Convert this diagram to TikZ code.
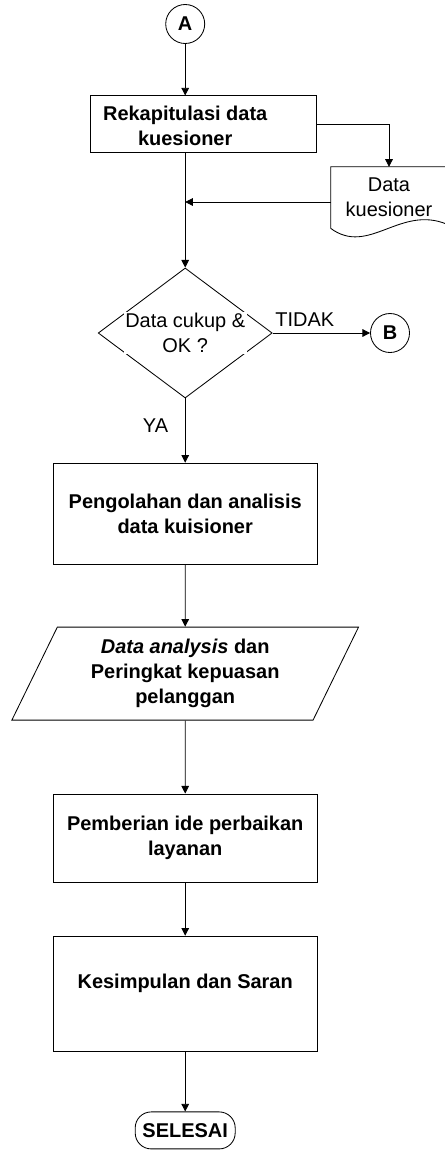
\documentclass[tikz,border=0pt]{standalone}
\usepackage{fontspec}
\setmainfont{Liberation Sans}
\usetikzlibrary{arrows.meta, shapes.geometric, calc}

\begin{document}
\begin{tikzpicture}[
    every node/.style={font=\fontsize{14.2pt}{17.8pt}\selectfont, align=center},
    garis/.style={line width=0.6pt},
    panah/.style={garis, -{Triangle[length=1.9mm, width=1.9mm]}},
    proses/.style={draw, garis, inner sep=0pt, font=\fontsize{14.2pt}{17.8pt}\selectfont\bfseries},
    konektor/.style={draw, garis, circle, minimum size=0.975cm, inner sep=0pt, font=\fontsize{14.2pt}{17.8pt}\selectfont\bfseries}
]
    \useasboundingbox (0,0) rectangle (11.125,-28.75);

    \node[konektor] (A) at (4.63,-0.6) {A};

    \node[proses, minimum width=5.65cm, minimum height=1.425cm] (rekap) at (5.075,-3.11) {};
    \node[font=\fontsize{14.2pt}{17.8pt}\selectfont\bfseries] (rekapteks) at (4.63,-3.14) {Rekapitulasi data\\kuesioner};

    \node[minimum width=2.9cm, minimum height=1.525cm, inner sep=0pt] (doc) at (9.725,-4.94) {Data\\kuesioner};
    \draw[garis] (doc.north east) -- (doc.north west) -- (doc.south west)
        .. controls +(0.95,-0.7) and +(-1.175,0.5) .. ($(doc.south east)+(0,0.1)$);

    \coordinate (gabung) at (4.63,-5.05);

    \node[draw, garis, diamond, minimum width=4.35cm, minimum height=3.25cm, inner sep=0pt] (cek) at (4.63,-8.325) {};
    \node[fill=white, inner sep=1pt] (cekteks) at (cek) {Data cukup \&\\OK ?};

    \node[konektor] (B) at (9.75,-8.325) {B};

    \node[proses, minimum width=6.6cm, minimum height=2.525cm] (olah) at (4.63,-12.84) {Pengolahan dan analisis\\data kuisioner};

    \node[draw, garis, trapezium, trapezium left angle=64, trapezium right angle=116, trapezium stretches=true,
          minimum width=8.675cm, minimum height=2.325cm, inner sep=0pt,
          font=\fontsize{14.2pt}{17.8pt}\selectfont\bfseries] (hasil) at (4.63,-16.84)
          {\textit{Data analysis} dan\\Peringkat kepuasan\\pelanggan};

    \node[proses, minimum width=6.6cm, minimum height=2.2cm] (ide) at (4.63,-20.95) {Pemberian ide perbaikan\\layanan};

    \node[proses, minimum width=6.6cm, minimum height=2.875cm] (simpul) at (4.63,-24.84) {Kesimpulan dan Saran\\\mbox{}};

    \node[proses, rounded corners=0.4cm, minimum width=2.5cm, minimum height=0.925cm] (selesai) at (4.63,-28.26) {SELESAI};

    \draw[panah] (A) -- (A |- rekap.north);
    \draw[panah] (rekap.east) -| (doc.north);
    \draw[panah] (A |- rekap.south) -- (cek.north);
    \draw[panah] (doc.west |- gabung) -- (gabung);
    \draw[panah] (cek.east) -- node[above=1pt, pos=0.33] (tidak) {TIDAK} (B.west);
    \draw[panah] (cek.south) -- node[left=3mm, pos=0.42] (ya) {YA} (olah.north);
    \draw[panah] (olah) -- (hasil);
    \draw[panah] (hasil) -- (ide);
    \draw[panah] (ide) -- (simpul);
    \draw[panah] (simpul) -- (selesai);
\end{tikzpicture}
\end{document}
